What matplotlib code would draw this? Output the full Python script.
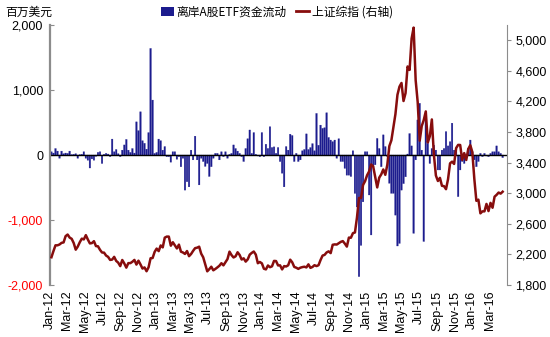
import matplotlib
matplotlib.use('Agg')
import matplotlib.pyplot as plt
import matplotlib.dates as mdates
from matplotlib.patches import Patch
from matplotlib.lines import Line2D
from matplotlib.ticker import FuncFormatter
import pandas as pd

plt.rcParams['font.family'] = ['Liberation Sans', 'Noto Sans CJK SC', 'DejaVu Sans']

# 离岸A股ETF资金流动 (百万美元), weekly
flow_2012 = [50, 30, 100, 60, -50, 60, 20, 30, 25, 60,
             5, 10, 20, -50, 5, 10, 50, -50, -80, -200,
             -60, -80, -20, 40, 50, -130, 10, 25, 15, -25,
             245, 50, 85, 20, -25, 75, 155, 240, 75, 40,
             100, 30, 510, 375, 665, 220, 180, 90, 345, 1640,
             845, 25]
flow_2013 = [40, 245, 220, 75, 130, -25, -25, -110,
             50, 50, -65, -25, -180, -50, -540, -410, -490, 75,
             -75, 290, -75, -460, -50, -100, -175, -130, -330, -180,
             -50, 25, 25, -75, 50, -25, 50, -50, 10, 25,
             155, 100, 60, 25, -25, -100, 100, 250, 385, 25,
             345, 10, -15, -25]
flow_2014 = [345, -25, 165, 100, 435, 115,
             125, 25, 115, -100, -280, -490, 130, 75, 320, 300,
             -100, 25, -100, -75, 65, 85, 325, 85, 115, 175,
             65, 640, 150, 460, 410, 420, 650, 270, 230, 205,
             230, -50, 250, -100, -100, -205, -310, -310, -330, 65,
             -590, -800, -1870, -1390, -720, 50]
flow_2015 = [50, -615, -1230, -180,
             -150, 255, 100, -180, 310, 130, -25, -435, -590, -590,
             -925, -1400, -1360, -540, -440, -335, 15, 330, 140, -1205,
             -75, 540, 795, 75, -1330, 565, 180, -130, 100, 150,
             75, -230, -230, 75, 100, 360, 140, 205, 490, 75,
             100, -640, -230, -100, -130, -25, 100, 230]
flow_2016 = [50, -75, -180, -100, 25, -25, 25, -15,
             -25, 25, 50, 50, 140, 50, 25, -40]

# 上证综指, weekly close
sh_2012 = [2163, 2244, 2319, 2319, 2330, 2351, 2357, 2439,
           2460, 2420, 2404, 2349, 2262, 2302, 2359, 2406, 2396,
           2452, 2394, 2344, 2348, 2373, 2309, 2306, 2260, 2225,
           2223, 2185, 2168, 2128, 2132, 2168, 2115, 2092, 2047,
           2127, 2082, 2027, 2086, 2086, 2104, 2128, 2067,
           2118, 2069, 2015, 2030, 1980, 2032, 2150, 2153, 2233]
sh_2013 = [2276, 2243, 2317, 2292, 2419, 2433, 2433, 2314,
           2359, 2318, 2278, 2328, 2236, 2225, 2206, 2244, 2177,
           2205, 2246, 2282, 2288, 2301, 2210, 2162, 2073, 1979,
           2007, 2039, 1992, 2010, 2030, 2052, 2085, 2057, 2098,
           2139, 2236, 2191, 2160, 2175, 2228, 2193, 2133,
           2149, 2106, 2135, 2197, 2220, 2238, 2197, 2085, 2101]
sh_2014 = [2083, 2013, 2004, 2055, 2033, 2044, 2115, 2113, 2056,
           2057, 2004, 2047, 2042, 2058, 2131, 2097, 2036,
           2026, 2011, 2026, 2034, 2039, 2030, 2070, 2024, 2036,
           2059, 2047, 2059, 2127, 2185, 2194, 2226, 2240, 2217,
           2326, 2331, 2329, 2347, 2364, 2374, 2341, 2302, 2420,
           2418, 2478, 2487, 2683, 2938, 2938, 3108, 3158]
sh_2015 = [3235, 3285, 3376, 3351, 3210, 3076, 3204, 3247, 3311,
           3241, 3373, 3617, 3692, 3863, 4034, 4287, 4394,
           4442, 4206, 4309, 4658, 4612, 5023, 5166, 4478, 4193,
           3687, 3878, 3957, 4070, 3664, 3745, 3965, 3508, 3232,
           3160, 3201, 3097, 3093, 3053, 3183, 3391, 3413, 3383,
           3590, 3632, 3631, 3436, 3525, 3435, 3579, 3628]
sh_2016 = [3539, 3186, 2901, 2916, 2737, 2763, 2763, 2860, 2767,
           2874, 2810, 2955, 2979, 3009, 2995, 3020]

flow = flow_2012 + flow_2013 + flow_2014 + flow_2015 + flow_2016
sh = sh_2012 + sh_2013 + sh_2014 + sh_2015 + sh_2016
n = min(len(flow), len(sh))
dates = pd.date_range('2012-01-06', periods=n, freq='W-FRI')

bar_color = '#1c1c8e'
line_color = '#870d0d'
axis_gray = '#8c8c8c'

fig = plt.figure(figsize=(5.5, 3.37), dpi=100)
ax = fig.add_axes([50 / 550, 52 / 337, 457 / 550, 260 / 337])
# thin weekly bars: no pixel snapping so every bar keeps the same width
ax.bar(dates, flow[:n], width=5.5, color=bar_color, edgecolor=bar_color,
       linewidth=0.2, snap=False)
ax.axhline(0, color='black', lw=1)
ax.set_ylim(-2000, 2000)
ax.set_yticks([-2000, -1000, 0, 1000, 2000])
ax.yaxis.set_major_formatter(FuncFormatter(lambda v, p: f'{v:,.0f}'))
for lab, v in zip(ax.get_yticklabels(), [-2000, -1000, 0, 1000, 2000]):
    lab.set_color('red' if v < 0 else 'black')
ax.set_xlim(pd.Timestamp('2012-01-01'), pd.Timestamp('2016-04-30'))
ax.xaxis.set_major_locator(mdates.MonthLocator(bymonth=[1, 3, 5, 7, 9, 11]))
ax.xaxis.set_major_formatter(mdates.DateFormatter('%b-%y'))
ax.tick_params(axis='x', length=0, pad=4, labelsize=9, rotation=90)
ax.tick_params(axis='y', direction='in', length=3, color=axis_gray, labelsize=9, pad=5)
for s in ['top', 'bottom', 'right']:
    ax.spines[s].set_visible(False)
ax.spines['left'].set_color(axis_gray)
ax.spines['left'].set_linewidth(1.6)

ax2 = ax.twinx()
ax2.plot(dates, sh[:n], color=line_color, lw=1.8)
ax2.set_ylim(1800, 5200)
ax2.set_yticks(range(1800, 5001, 400))
ax2.yaxis.set_major_formatter(FuncFormatter(lambda v, p: f'{v:,.0f}'))
ax2.tick_params(axis='y', direction='out', length=3, color=axis_gray, labelsize=9, pad=3)
for s in ['top', 'bottom', 'left']:
    ax2.spines[s].set_visible(False)
ax2.spines['right'].set_color(axis_gray)

fig.text(5 / 550, 1 - 12 / 337, '百万美元', fontsize=8.5, va='center', ha='left',
         family=['Noto Sans CJK SC'])

handles = [Patch(facecolor=bar_color), Line2D([], [], color=line_color, lw=2)]
fig.legend(handles, ['离岸A股ETF资金流动', '上证综指 (右轴)'], loc='center',
           bbox_to_anchor=(277 / 550, 1 - 12 / 337), ncol=2, frameon=False,
           handlelength=1.1, handleheight=0.7, handletextpad=0.2, columnspacing=0.8,
           prop={'family': ['Noto Sans CJK SC'], 'size': 8.5})

fig.savefig('out.png', dpi=100)
